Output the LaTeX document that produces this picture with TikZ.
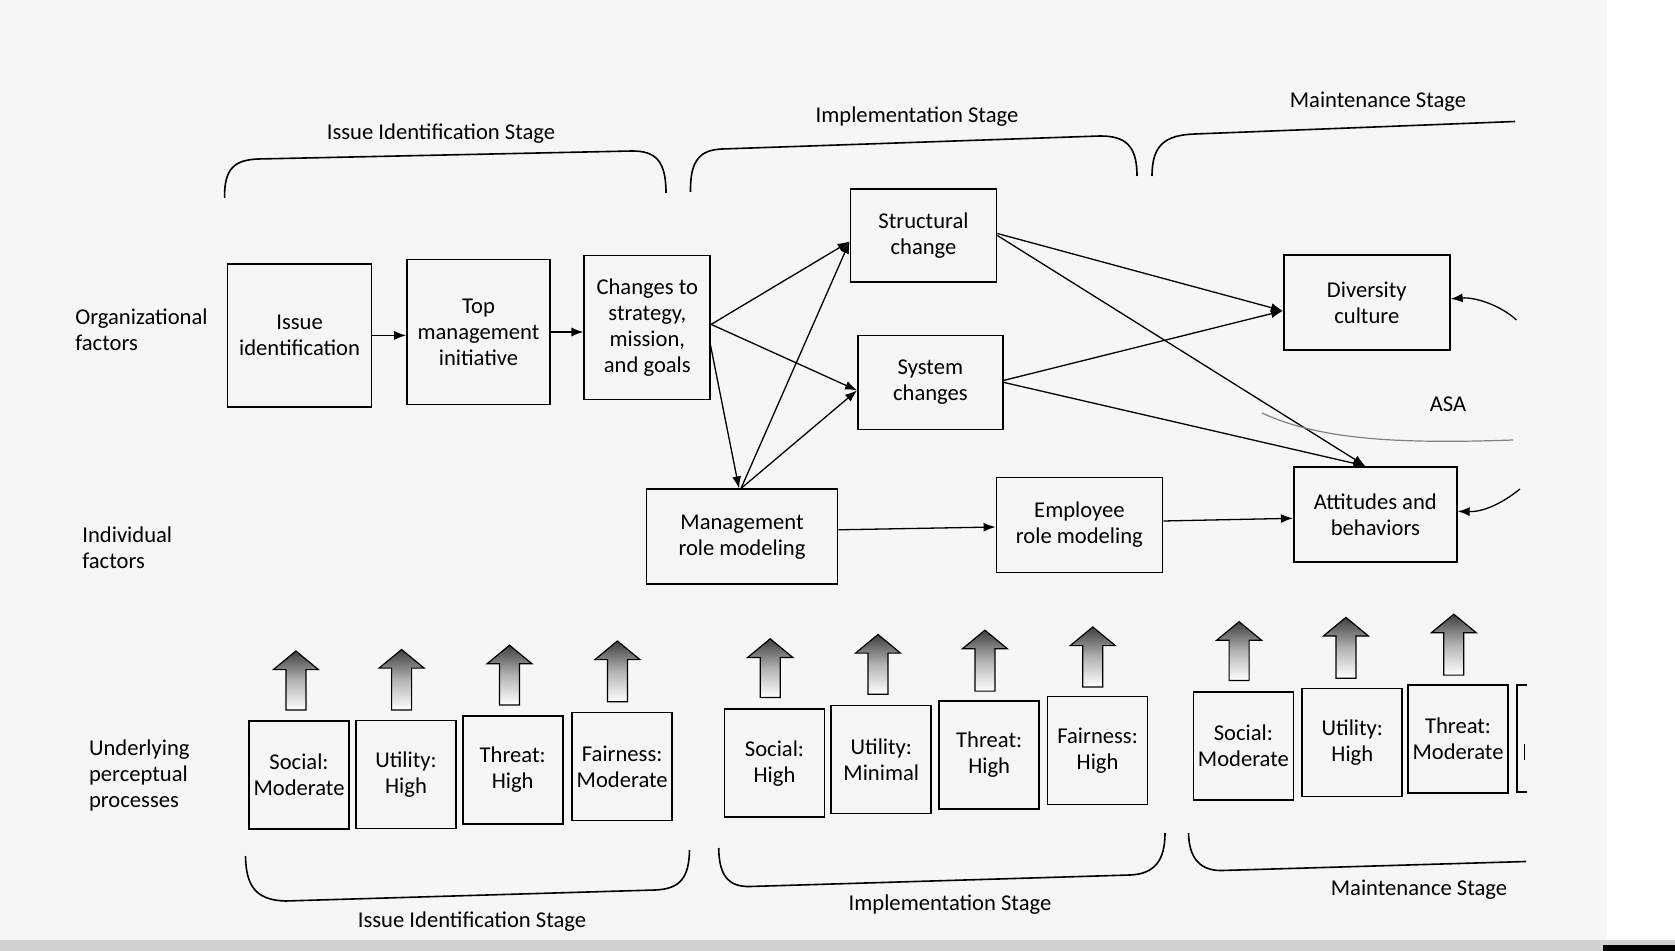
\documentclass[tikz,border=0pt]{standalone}
\usepackage{fontspec}
\setmainfont{Carlito}
\usetikzlibrary{arrows.meta,calc}
\definecolor{paper}{HTML}{F6F6F6}
\newcommand\blockup[3]{%
  \draw[line width=0.6pt, top color=black!75, bottom color=white, middle color=black!30]
    ({#1-10},{#3}) -- ({#1-10},{#2+18.6}) -- ({#1-22.5},{#2+18.6}) -- ({#1},{#2})
    -- ({#1+22.5},{#2+18.6}) -- ({#1+10},{#2+18.6}) -- ({#1+10},{#3}) -- cycle;}
\begin{document}
\begin{tikzpicture}[x=0.5pt,y=-0.5pt,
  font=\fontsize{11.3}{13}\selectfont,
  box/.style={draw, line width=0.85pt, align=center, inner sep=1pt},
  pbox/.style={box, minimum width=50pt, minimum height=54pt},
  arr/.style={-{Latex[length=6pt,width=4.5pt]}, line width=0.65pt},
  brace/.style={line width=0.8pt},
  lbl/.style={align=left, anchor=west, inner sep=0pt}]
\useasboundingbox (0,0) rectangle (1675,951);
% paper
\fill[white] (0,0) rectangle (1675,951);
\fill[paper] (0,0) rectangle (1607,940);
\fill[black!18] (0,940) rectangle (1675,951);
\fill[black] (1603,945) rectangle (1675,951);

% stage labels (top)
\node (tlab1) at (441,134) {Issue Identification Stage};
\node (tlab2) at (917,117) {Implementation Stage};
\node (tlab3) at (1378,102) {Maintenance Stage};
% top braces
\draw[brace] (224.6,198) .. controls (224,168) and (235,160) .. (258,159) -- (632,151) .. controls (655,151) and (666,160) .. (666,193);
\draw[brace] (690.5,192) .. controls (690,160) and (700,150) .. (722,149) -- (1100,136) .. controls (1125,136) and (1137,145) .. (1137,176);
\draw[brace] (1152,176) .. controls (1152,145) and (1165,135) .. (1195,134) -- (1515,121.5);

% row labels
\node[lbl] (orglab) at (75,330) {Organizational\\factors};
\node[lbl] (indlab) at (82,547.5) {Individual\\factors};
\node[lbl] (uplab) at (88.7,775.5) {Underlying\\perceptual\\processes};

% organizational boxes
\node[box, minimum width=72pt, minimum height=71.5pt] (issue) at (299.6,335.4) {Issue\\identification};
\node[box, minimum width=71.5pt, minimum height=72.5pt] (top) at (478.5,332) {Top\\management\\initiative};
\node[box, minimum width=63pt, minimum height=72pt] (changes) at (647.3,327.4) {Changes to\\strategy,\\mission,\\and goals};
\node[box, minimum width=73pt, minimum height=46.5pt] (struct) at (923.5,235.5) {Structural\\change};
\node[box, minimum width=72.5pt, minimum height=47pt] (system) at (930.4,382.4) {System\\changes};
\node[box, minimum width=83pt, minimum height=47.5pt] (div) at (1366.8,302.8) {Diversity\\culture};
% individual boxes
\node[box, minimum width=95.5pt, minimum height=47.5pt] (mgmt) at (742,536.8) {Management\\role modeling};
\node[box, minimum width=83pt, minimum height=47.5pt] (emp) at (1079.4,525) {Employee\\role modeling};
\node[box, minimum width=81.5pt, minimum height=47.5pt] (att) at (1375.3,514.3) {Attitudes and\\behaviors};

% connectors
\draw[arr] (issue.east) -- (issue.east -| top.west);
\draw[arr] (top.east) -- (top.east -| changes.west);
\coordinate (sin) at ($(struct.west)+(0,6)$);
\coordinate (yin) at ($(system.west)+(0,8)$);
\coordinate (din) at ($(div.west)+(0,8)$);
\coordinate (ain) at ($(att.north)+(-10,0)$);
\draw[arr] ($(changes.east)+(0,-3)$) -- (sin);
\draw[arr] ($(changes.east)+(0,-3)$) -- (yin);
\draw[arr] ($(changes.east)+(-1,16)$) -- ($(mgmt.north)+(-3,0)$);
\draw[arr] ($(mgmt.north)+(-1,0)$) -- (sin);
\draw[arr] ($(mgmt.north)+(-1,0)$) -- (yin);
\draw[arr] ($(struct.east)+(0,-2)$) -- (din);
\draw[arr] ($(struct.east)+(0,0)$) -- (ain);
\draw[arr] ($(system.east)+(0,-2)$) -- (din);
\draw[arr] ($(system.east)+(0,0)$) -- (ain);
\draw[arr] ($(mgmt.east)+(0,-7)$) -- ($(emp.west)+(0,2)$);
\draw[arr] ($(emp.east)+(0,-4)$) -- ($(att.west)+(0,4)$);
% ASA loop
\coordinate (dfree) at (1516.5,320);
\coordinate (afree) at (1520,489);
\draw[arr] (dfree) .. controls (1500,305) and (1475,297) .. ($(div.east)+(0,-4)$);
\draw[arr] (afree) .. controls (1500,505) and (1482,512) .. ($(att.east)+(0,-3)$);
\draw[line width=0.6pt, black!50] (1262,413) .. controls (1320,440) and (1400,444) .. (1513,440);
\node (asa) at (1448,404) {ASA};

% perceptual boxes
\node[pbox] (s1) at (299,775) {Social:\\Moderate};
\node[pbox] (u1) at (406,774.5) {Utility:\\High};
\node[pbox] (t1) at (512.7,769.7) {Threat:\\High};
\node[pbox] (f1) at (622.2,766.5) {Fairness:\\Moderate};
\node[pbox] (s2) at (774.5,763.2) {Social:\\High};
\node[pbox] (u2) at (881.3,759.5) {Utility:\\Minimal};
\node[pbox] (t2) at (989.2,754.7) {Threat:\\High};
\node[pbox] (f2) at (1097.6,750.4) {Fairness:\\High};
\node[pbox] (s3) at (1243.4,746) {Social:\\Moderate};
\node[pbox] (u3) at (1352.3,742.4) {Utility:\\High};
\node[pbox] (t3) at (1458,738.7) {Threat:\\Moderate};
\draw[line width=0.85pt] (1527,685) -- (1517,685) -- (1517,792) -- (1527,792);
\draw[line width=0.7pt] (1524.5,744) -- (1524.5,760);

% up block arrows
\blockup{295.9}{651}{710}
\blockup{401.6}{649.5}{710}
\blockup{509.5}{645.2}{705}
\blockup{617.4}{641}{701.8}
\blockup{770.2}{638.8}{697.5}
\blockup{878}{634.5}{694.3}
\blockup{984.9}{630.2}{691.1}
\blockup{1092.8}{627}{686.9}
\blockup{1239.1}{621.7}{680.4}
\blockup{1345.9}{617.4}{678.3}
\blockup{1453.8}{614.2}{675.1}

% bottom braces
\draw[brace] (245.5,856) .. controls (246,885) and (255,900) .. (285,901) -- (655,890) .. controls (680,889) and (689,878) .. (689.5,850);
\draw[brace] (718.7,848) .. controls (719,875) and (728,887) .. (750,886.5) -- (1130,875) .. controls (1155,874) and (1165,860) .. (1165,833);
\draw[brace] (1188.5,833) .. controls (1189,858) and (1200,871) .. (1222,870.5) -- (1526,861.5);
\node (blab1) at (472,922) {Issue Identification Stage};
\node (blab2) at (950,905) {Implementation Stage};
\node (blab3) at (1419,890) {Maintenance Stage};
\end{tikzpicture}
\end{document}
